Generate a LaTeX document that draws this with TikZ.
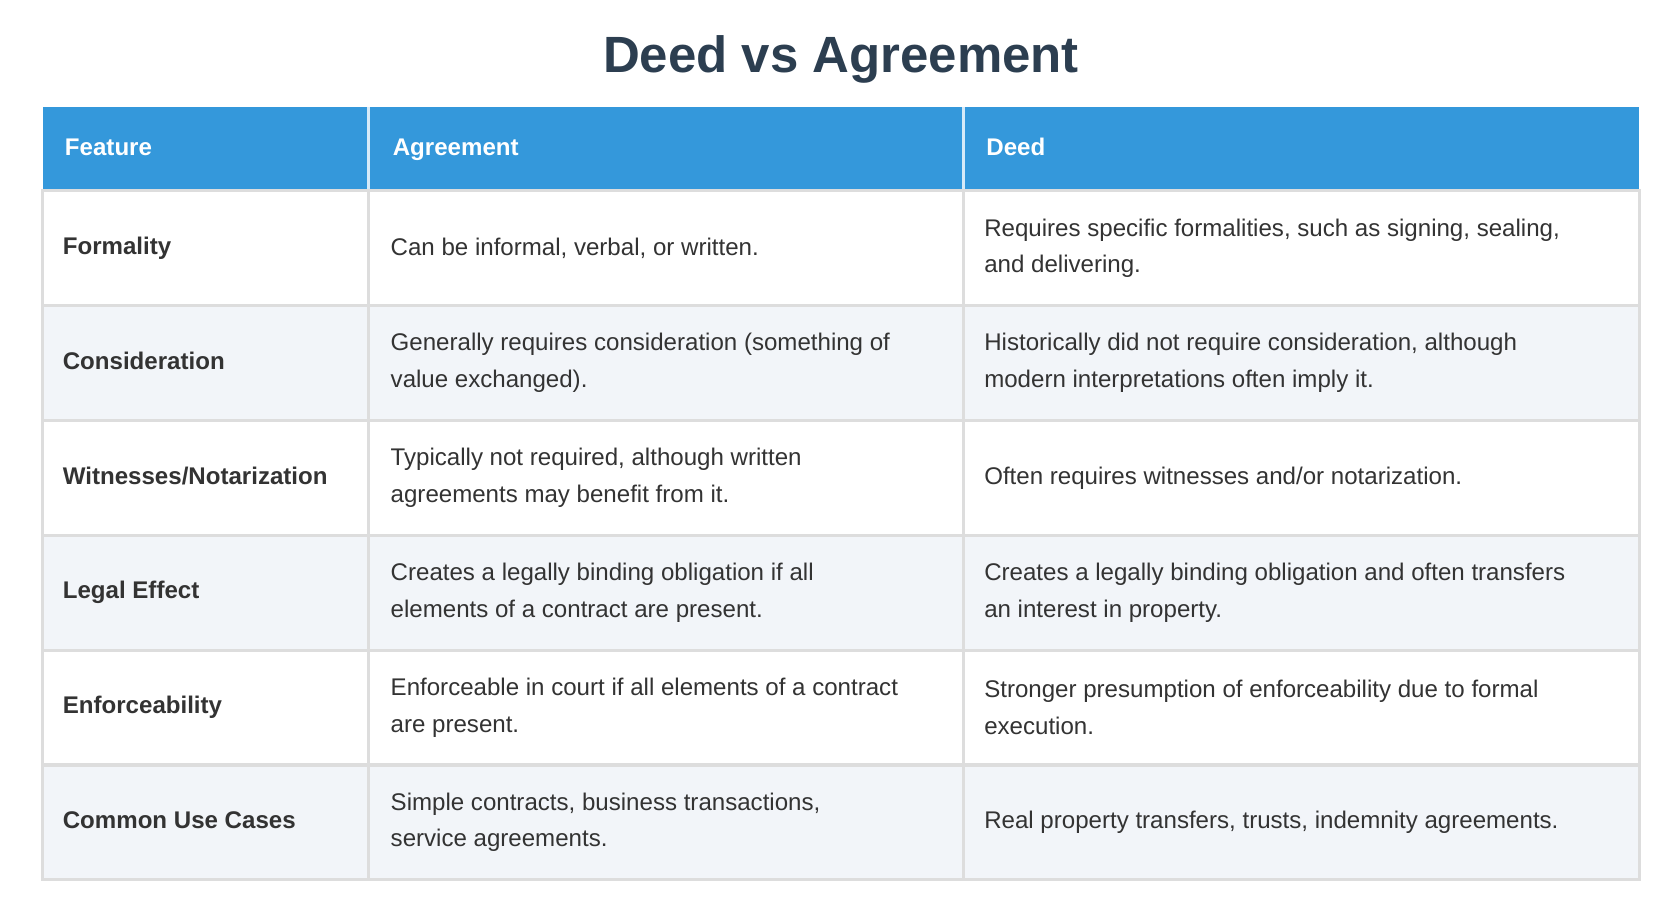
\documentclass[tikz,border=0pt]{standalone}
\usepackage{fontspec}
\setmainfont{Liberation Sans}
\definecolor{headblue}{HTML}{3498DB}
\definecolor{titlecol}{HTML}{2C3E50}
\definecolor{textcol}{HTML}{333333}
\definecolor{rowgray}{HTML}{F2F5F9}
\definecolor{gridcol}{HTML}{DDDDDD}
\tikzset{
  cell/.style={draw=gridcol, line width=0.9pt},
  txt/.style={anchor=west, align=left, inner sep=0pt, text=textcol,
    font=\fontsize{6.85pt}{10.4pt}\selectfont},
  feat/.style={txt, text height=5pt, text depth=1.5pt,
    font=\fontsize{6.85pt}{10.4pt}\selectfont\bfseries},
  head/.style={anchor=west, inner sep=0pt, text=white, text height=5pt, text depth=1.5pt,
    font=\fontsize{6.85pt}{10.4pt}\selectfont\bfseries}
}
\begin{document}
\begin{tikzpicture}[x=0.010714cm, y=-0.010714cm]
\useasboundingbox (0,0) rectangle (1568,860.5);
%% Titel
\node[text=titlecol, font=\fontsize{14.5pt}{17pt}\selectfont\bfseries] (title) at (785,55) {Deed vs Agreement};
%% Kopfzeile
\fill[headblue] (40,100) rectangle (1530,178);
\draw[white!80!headblue, line width=0.9pt] (344,100) -- (344,178) (899,100) -- (899,178);
\node[head] (hfeat) at (60,139) {Feature};
\node[head] (hagr) at (366,139) {Agreement};
\node[head] (hdeed) at (920,139) {Deed};
%% Zeilen
\foreach \i/\f/\a/\d in {
  0/Formality/{Can be informal, verbal, or written.}/{Requires specific formalities, such as signing, sealing,\\and delivering.},
  1/Consideration/{Generally requires consideration (something of\\value exchanged).}/{Historically did not require consideration, although\\modern interpretations often imply it.},
  2/Witnesses\slash Notarization/{Typically not required, although written\\agreements may benefit from it.}/{Often requires witnesses and/or notarization.},
  3/Legal Effect/{Creates a legally binding obligation if all\\elements of a contract are present.}/{Creates a legally binding obligation and often transfers\\an interest in property.},
  4/Enforceability/{Enforceable in court if all elements of a contract\\are present.}/{Stronger presumption of enforceability due to formal\\execution.},
  5/Common Use Cases/{Simple contracts, business transactions,\\service agreements.}/{Real property transfers, trusts, indemnity agreements.}}{
  \pgfmathsetmacro{\top}{178+107.2*\i}
  \pgfmathsetmacro{\mid}{\top+53.6}
  \pgfmathparse{mod(\i,2)==1 ? "rowgray" : "white"}
  \edef\rowfill{\pgfmathresult}
  \filldraw[cell, fill=\rowfill] (40,\top) rectangle (344,\top+107.2);
  \filldraw[cell, fill=\rowfill] (344,\top) rectangle (899,\top+107.2);
  \filldraw[cell, fill=\rowfill] (899,\top) rectangle (1530,\top+107.2);
  \node[feat] (f\i) at (58,\mid) {\f};
  \node[txt] (a\i) at (364,\mid) {\a};
  \node[txt] (d\i) at (918,\mid) {\d};
}
\end{tikzpicture}
\end{document}
